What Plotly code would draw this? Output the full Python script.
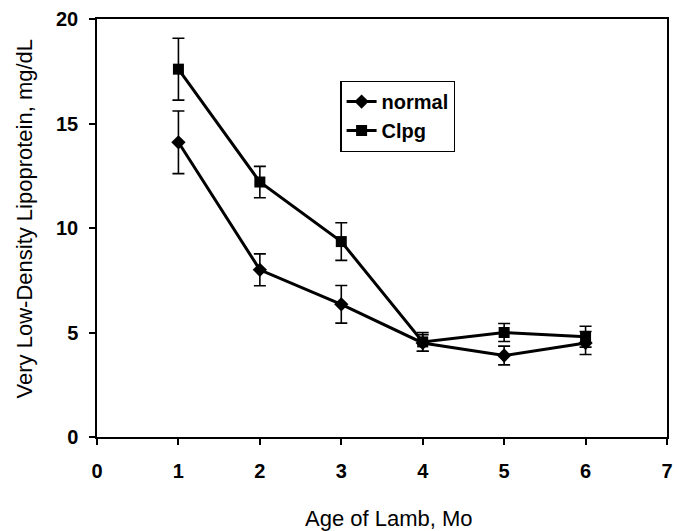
import plotly.graph_objects as go

months = [1, 2, 3, 4, 5, 6]
normal_vals = [14.1, 8.0, 6.35, 4.5, 3.9, 4.5]
normal_err = [1.5, 0.76, 0.9, 0.4, 0.45, 0.55]
clpg_vals = [17.6, 12.2, 9.35, 4.55, 5.0, 4.8]
clpg_err = [1.48, 0.75, 0.9, 0.45, 0.43, 0.5]
x_ticks = [0, 1, 2, 3, 4, 5, 6, 7]
y_ticks = [0, 5, 10, 15, 20]

FONT = "Liberation Sans, Arial, sans-serif"

fig = go.Figure()
fig.add_trace(go.Scatter(
    x=months, y=normal_vals, name="normal", mode="lines+markers",
    line=dict(color="black", width=3),
    marker=dict(symbol="diamond", size=11, color="black"),
    error_y=dict(type="data", array=normal_err, visible=True,
                 color="black", thickness=1.6, width=6),
))
fig.add_trace(go.Scatter(
    x=months, y=clpg_vals, name="Clpg", mode="lines+markers",
    line=dict(color="black", width=3),
    marker=dict(symbol="square", size=11, color="black"),
    error_y=dict(type="data", array=clpg_err, visible=True,
                 color="black", thickness=1.6, width=6),
))

fig.update_layout(
    width=679, height=531,
    margin=dict(l=97, r=6, t=19, b=94),
    paper_bgcolor="white", plot_bgcolor="white",
    font=dict(family=FONT, color="black"),
    showlegend=True,
    legend=dict(
        x=0.427, y=0.852, xanchor="left", yanchor="top",
        bordercolor="black", borderwidth=1.2, bgcolor="white",
        font=dict(size=20, family=FONT, weight="bold"),
        tracegroupgap=0, itemwidth=30,
    ),
    xaxis=dict(
        range=[0, 7], tickvals=x_ticks, ticks="outside", ticklen=6,
        tickwidth=1.5, tickcolor="black", ticklabelstandoff=9,
        ticklabeloverflow="allow",
        showline=True, linecolor="black", linewidth=1.5, mirror=True,
        showgrid=False, zeroline=False,
        tickfont=dict(size=20, family=FONT, weight="bold"),
    ),
    xaxis2=dict(
        range=[0, 7], tickvals=x_ticks, ticks="inside", ticklen=6,
        tickwidth=1.5, tickcolor="black", overlaying="x", anchor="y",
        side="bottom", showticklabels=False, showgrid=False, zeroline=False,
        showline=False,
    ),
    yaxis=dict(
        range=[0, 20], tickvals=y_ticks, ticks="outside", ticklen=6,
        tickwidth=1.5, tickcolor="black", ticklabelstandoff=7,
        showline=True, linecolor="black", linewidth=1.5, mirror=True,
        showgrid=False, zeroline=False,
        tickfont=dict(size=20, family=FONT, weight="bold"),
    ),
    annotations=[
        dict(text="Age of Lamb, Mo", xref="paper", yref="paper",
             x=0.513, y=-0.194, xanchor="center", yanchor="middle",
             showarrow=False, font=dict(size=22, family=FONT)),
        dict(text="Very Low-Density Lipoprotein, mg/dL", xref="paper",
             yref="paper", x=-0.128, y=0.523, xanchor="center",
             yanchor="middle", textangle=-90, showarrow=False,
             font=dict(size=22, family=FONT)),
    ],
)

fig.write_html("out.html", config={"displayModeBar": False},
               post_script="document.body.style.margin='0px';")
